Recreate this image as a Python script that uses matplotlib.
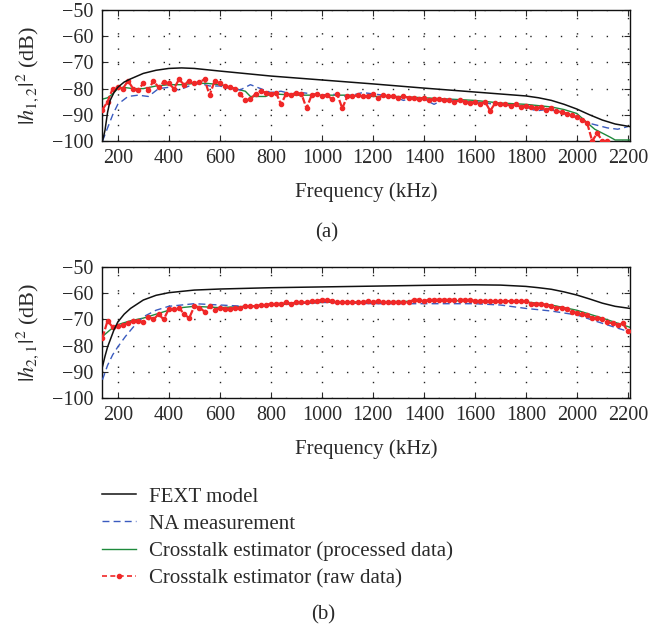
import numpy as np
import matplotlib
matplotlib.use("Agg")
import matplotlib.pyplot as plt
from matplotlib.lines import Line2D

plt.rcParams['font.family'] = ['Liberation Serif', 'DejaVu Serif']
plt.rcParams['mathtext.fontset'] = 'stix'

# ---------------- data: panel (a) |h12|^2 ----------------
fext_a_x = [140, 145, 150, 160, 170, 185, 200, 225, 250, 300, 350, 400, 450, 500, 600, 800,
            1000, 1200, 1400, 1600, 1800, 1850, 1900, 1950, 2000, 2050, 2100, 2150, 2208]
fext_a_y = [-100, -98, -95.8, -89, -84.5, -81.5, -79.5, -77.5, -76.3, -74.2, -73, -72.3, -72.1, -72.3,
            -73.3, -75.2, -76.7, -78.2, -79.8, -81.3, -82.8, -83.5, -84.5, -86, -87.8, -90, -92, -93.5, -94.5]

na_a_x = [140, 160, 180] + list(range(200, 2201, 40))
na_a_y = [-100, -95, -90,
          -86, -83, -82.5, -83, -80, -79.5, -80.5, -79, -78, -79,
          -79, -80, -80.5, -78.5, -80, -81.5, -81, -82, -81.5, -82,
          -82.5, -82, -83, -82.5, -81.5, -82, -82.5, -83, -84.5, -83.5,
          -84, -86, -84, -84.5, -85, -85, -85.5, -86, -86, -86.5,
          -87, -88.5, -88, -88.5, -90, -91, -93, -94, -95, -95.5,
          -94.5]

proc_a_x = [140, 160, 180, 200, 220, 260, 300, 350, 400, 450, 500, 550, 600, 640, 680, 700, 720,
            780, 800, 900, 1000, 1100, 1200, 1300, 1400, 1500, 1600, 1700, 1800, 1900, 1950, 2000,
            2040, 2070, 2100, 2130, 2150, 2208]
proc_a_y = [-84, -83.5, -82, -80, -79.5, -80, -80, -79, -78.5, -78.5, -78, -78, -78.5, -79.5, -80.5,
            -81, -83, -83, -82, -82.5, -82.5, -82.5, -83, -83, -83.5, -84, -84.5, -85.5, -86, -87,
            -88, -89.5, -93, -95.5, -97, -98.5, -99.6, -99.6]

raw_a_x = list(range(140, 2121, 20))
raw_a_y = [-88, -85, -80, -79.5, -80, -77, -80, -80.5, -78, -80.5,
           -77, -79.5, -77.5, -78, -80, -76.5, -78.5, -77, -78, -77.5,
           -76.5, -82.5, -77, -78, -79, -79.5, -80, -82, -84.5, -84,
           -82, -81, -81.5, -82, -81.5, -86, -82, -82.5, -81.5, -82,
           -87.5, -82.5, -82, -83, -82.5, -84, -82, -87.5, -83, -83,
           -82.5, -83, -83, -82, -83.5, -82.5, -83, -83, -83.5, -83,
           -83.5, -83.5, -84, -83.5, -84.5, -84, -84, -84.5, -84.5, -85,
           -84.5, -85, -85.5, -85, -86, -85, -88.5, -85.5, -86, -86,
           -86.5, -86, -87, -86.5, -87, -87.5, -87, -88, -87.5, -88.5,
           -89, -89.5, -90, -91, -92, -93, -100, -97, -100, -100]

# ---------------- data: panel (b) |h21|^2 ----------------
fext_b_x = [140, 150, 160, 170, 185, 200, 225, 250, 300, 350, 400, 500, 600, 800, 1000, 1200,
            1400, 1600, 1700, 1800, 1850, 1900, 1950, 2000, 2050, 2100, 2150, 2208]
fext_b_y = [-88, -84, -80.5, -77.9, -74, -71, -68, -65.8, -62.6, -60.8, -59.8, -58.8, -58.4, -57.9,
            -57.6, -57.3, -57, -56.8, -56.9, -57.4, -57.9, -58.5, -59.5, -60.7, -62.2, -63.8, -65, -65.8]

na_b_x = [140, 160, 180, 200, 230, 260, 300, 350, 400, 450, 500, 600, 700, 800, 1000, 1200,
          1400, 1600, 1700, 1800, 1900, 2000, 2100, 2208]
na_b_y = [-93, -87.5, -83.5, -80.5, -76.5, -73, -69, -66.5, -65, -64.5, -64, -64.5, -65, -64.5,
          -63.5, -64, -64, -64, -64.5, -65.8, -66.8, -68.3, -71.5, -74.8]

proc_b_x = [140, 170, 200, 250, 300, 350, 400, 450, 500, 600, 700, 800, 1000, 1200, 1400, 1600,
            1800, 1900, 2000, 2100, 2208]
proc_b_y = [-76.5, -74, -72, -70.5, -69.5, -68, -66.5, -65.5, -65, -65.5, -65, -64.5, -63.5,
            -63.3, -63, -62.8, -63.3, -64.5, -66.5, -69.5, -73]

raw_b_x = list(range(140, 2201, 20))
raw_b_y = [-77, -70.5, -73, -72.5, -72, -71.5, -70.5, -70.5, -71, -69,
           -70, -68, -70, -66, -66, -65.5, -68, -69.5, -65, -65.5,
           -67, -65, -66.5, -65.5, -66, -66, -65.5, -65.5, -65, -65,
           -65, -64.5, -64.5, -64, -64, -64, -63.5, -64, -63.5, -63.5,
           -63.5, -63, -63, -62.5, -62.5, -63, -63.5, -63.5, -63.5, -63.5,
           -63.5, -63.5, -63, -63.5, -63, -63.5, -63.5, -63.5, -63.5, -63.5,
           -63.5, -62.5, -62.5, -63, -62.5, -62.5, -62.5, -62.5, -62.5, -62.5,
           -62.5, -62.5, -62.5, -63, -63, -63, -63, -63, -63, -63,
           -63, -63, -63, -63, -64, -64, -64, -64.5, -65, -65.5,
           -65.5, -66, -67, -67.5, -68, -68.5, -69.5, -69.5, -70, -71,
           -71.5, -72, -71.5, -74.5]

xticks = list(range(200, 2201, 200))
yticks = [-100, -90, -80, -70, -60, -50]
ylabels = [r'$|h_{1,2}|^2$ (dB)', r'$|h_{2,1}|^2$ (dB)']
labels = ['FEXT model', 'NA measurement', 'Crosstalk estimator (processed data)',
          'Crosstalk estimator (raw data)']

C_BLACK = '#111111'
C_BLUE = '#3a5bbf'
C_GREEN = '#1e8a3c'
C_RED = '#f02828'
C_TEXT = '#2a2a2a'

fig = plt.figure(figsize=(6.70, 6.29), dpi=100)
ax_a = fig.add_axes([0.1522, 0.7758, 0.7880, 0.2083])
ax_b = fig.add_axes([0.1522, 0.3672, 0.7880, 0.2083])

panels = [
    (ax_a, fext_a_x, fext_a_y, na_a_x, na_a_y, proc_a_x, proc_a_y, raw_a_x, raw_a_y, ylabels[0]),
    (ax_b, fext_b_x, fext_b_y, na_b_x, na_b_y, proc_b_x, proc_b_y, raw_b_x, raw_b_y, ylabels[1]),
]

for ax, fx, fy, nx, ny, px, py, rx, ry, yl in panels:
    ax.plot(px, py, color=C_GREEN, lw=1.0, zorder=2)
    ax.plot(nx, ny, color=C_BLUE, lw=1.0, ls=(0, (5, 3)), zorder=3)
    ax.plot(rx, ry, color=C_RED, lw=1.6, ls=(0, (3, 1)), marker='.', ms=6, zorder=4)
    ax.plot(fx, fy, color=C_BLACK, lw=1.1, zorder=5)
    ax.set_xlim(138, 2208)
    ax.set_ylim(-100, -50)
    ax.set_xticks(xticks)
    ax.set_yticks(yticks)
    ax.set_yticklabels([f'\u2212{abs(v)}' for v in yticks])
    ax.tick_params(direction='in', top=True, right=True, length=4, width=0.8,
                   labelsize=14.5, pad=6, colors=C_TEXT)
    ax.grid(True, color='#222222', lw=1.0, ls=(0, (1, 10)))
    for s in ax.spines.values():
        s.set_linewidth(1.0)
        s.set_color('#111111')
    ax.set_xlabel('Frequency (kHz)', fontsize=15, color=C_TEXT, labelpad=10)
    ax.set_ylabel(yl, fontsize=16, color=C_TEXT, labelpad=8)

fig.text(327 / 670, 1 - 233 / 629, '(a)', fontsize=15, ha='center', va='center', color=C_TEXT)
fig.text(323 / 670, 1 - 615 / 629, '(b)', fontsize=15, ha='center', va='center', color=C_TEXT)

handles = [
    Line2D([], [], color=C_BLACK, lw=1.1),
    Line2D([], [], color=C_BLUE, lw=1.0, ls=(0, (5, 3))),
    Line2D([], [], color=C_GREEN, lw=1.0),
    Line2D([], [], color=C_RED, lw=1.2, ls=(0, (3, 2)), marker='.', ms=6),
]
fig.legend(handles, labels, loc='upper left', bbox_to_anchor=(102 / 670, 1 - 487 / 629),
           frameon=False, fontsize=15, handlelength=1.65, handletextpad=0.6,
           labelspacing=0.36, numpoints=1, borderaxespad=0, borderpad=0,
           labelcolor=C_TEXT)

fig.savefig('out.png', dpi=100)
